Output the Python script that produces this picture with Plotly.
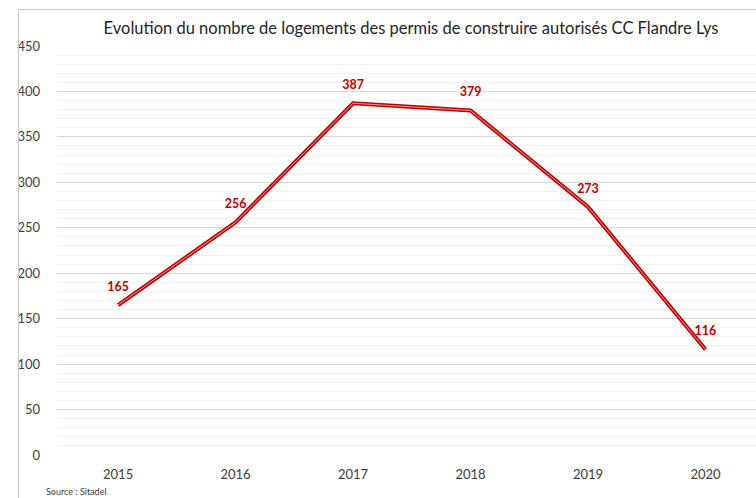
import plotly.graph_objects as go

years = ["2015", "2016", "2017", "2018", "2019", "2020"]
logements = [165, 256, 387, 379, 273, 116]
y_ticks = [0, 50, 100, 150, 200, 250, 300, 350, 400, 450]

title_text = "Evolution du nombre de logements des permis de construire autorisés CC Flandre Lys"
source_text = "Source : Sitadel"

FONT = "Lato, 'Open Sans', sans-serif"
W, H = 756, 498
ml, mr, mt, mb = 57, 0, 46, 43
pw, ph = W - ml - mr, H - mt - mb

def px_to_paper_x(px):
    return (px - ml) / pw

def px_to_paper_y(py):
    return (H - mb - py) / ph

fig = go.Figure()
fig.add_trace(go.Scatter(
    x=years, y=logements, mode="lines",
    line=dict(color="#C00000", width=4),
    hoverinfo="skip", showlegend=False,
))
fig.add_trace(go.Scatter(
    x=years, y=logements, mode="lines+markers+text",
    line=dict(color="rgba(245,170,170,0.9)", width=1),
    marker=dict(size=16, color="rgba(0,0,0,0)"),
    text=[str(v) for v in logements],
    textposition="top center",
    textfont=dict(family=FONT, size=12.5, color="#C00000", weight="bold"),
    showlegend=False,
))

fig.update_layout(
    width=W, height=H,
    margin=dict(l=ml, r=mr, t=mt, b=mb),
    paper_bgcolor="white", plot_bgcolor="white",
    showlegend=False,
    font=dict(family=FONT, size=13, color="#595959"),
    title=dict(text=title_text, x=px_to_paper_x(411), xref="paper", xanchor="center",
               y=1 - 28 / H, yref="container", yanchor="middle",
               font=dict(family=FONT, size=16.5, color="#262626")),
    xaxis=dict(
        type="category", range=[-0.52, 5.43],
        showgrid=False, zeroline=False, showline=False, ticks="",
        tickfont=dict(family=FONT, size=13, color="#404040"),
        ticklabelstandoff=10,
    ),
    yaxis=dict(
        range=[0, 450], tickvals=y_ticks,
        showgrid=True, gridcolor="#D9D9D9", gridwidth=1,
        minor=dict(dtick=10, showgrid=True, gridcolor="#F2F2F2", gridwidth=1),
        zeroline=False, showline=False, ticks="",
        tickfont=dict(family=FONT, size=13, color="#404040"),
        ticklabelstandoff=16,
    ),
    annotations=[dict(
        text=source_text, xref="paper", yref="paper",
        x=px_to_paper_x(44), y=px_to_paper_y(491), xanchor="left", yanchor="middle",
        showarrow=False, font=dict(family=FONT, size=9, color="#404040"),
    )],
    shapes=[
        dict(type="rect", xref="paper", yref="paper", layer="above",
             x0=px_to_paper_x(18.5), x1=px_to_paper_x(780),
             y0=px_to_paper_y(520), y1=px_to_paper_y(9.5),
             fillcolor="rgba(0,0,0,0)",
             line=dict(color="#C8C8C8", width=1)),
    ],
)

fig.write_html("out.html", config={"displayModeBar": False},
               post_script="document.body.style.margin='0';document.body.style.overflow='hidden';")
